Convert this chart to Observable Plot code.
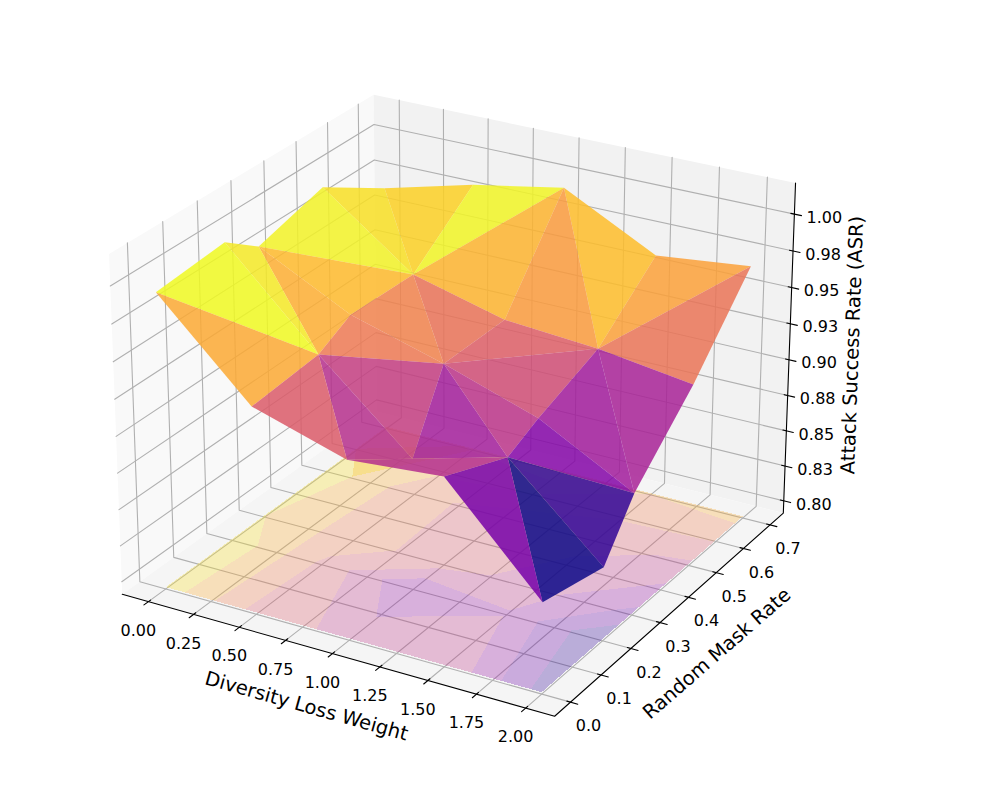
<!DOCTYPE html><html><head><meta charset="utf-8">
<script src="https://cdn.jsdelivr.net/npm/d3@7"></script>
<script src="https://cdn.jsdelivr.net/npm/@observablehq/plot@0.6"></script>
<style>body{margin:0;background:#fff}svg{display:block;font-family:"DejaVu Sans"}</style>
</head><body><div id="c"></div><script>
const weights=[0,.5,1,1.5,2];
const rates=[0,.2,.3,.5,.7];
const asr0=[.9928,.9974,.9805,.9935,.9657];
const asr1=[.9325,.9367,.9487,.9473,.9818];
const asr2=[.9132,.8816,.9305,.9307,.9933];
const asr3=[.9186,.8990,.9093,.9258,.9607];
const asr4=[.8528,.8415,.8749,.9168,.9677];
const asr=[asr0,asr1,asr2,asr3,asr4];
const diagonals=["00 01 11","00 10 11","01 02 11","02 11 12","02 03 13","02 12 13","03 04 13","04 14 13",
"10 20 11","20 21 11","11 21 22","11 12 22","12 13 22","13 22 23","13 14 24","13 23 24",
"20 30 31","20 21 31","21 31 22","22 31 32","22 32 33","22 23 33","23 24 33","24 33 34",
"30 40 31","40 41 31","31 41 42","31 32 42","32 42 33","33 42 43","33 43 44","33 34 44"];
const xTicks=[0,.25,.5,.75,1,1.25,1.5,1.75,2];
const yTicks=[0,.1,.2,.3,.4,.5,.6,.7];
const zTicks=[.8,.825,.85,.875,.9,.925,.95,.975,1];
const levels=[.84,.86,.88,.9,.92,.94,.96,.98,1];
const xl=[-.1458,2.1458],yl=[-.051,.751],zl=[.7912,1.0209];
const floorZ=.7925;

const A=[1.1905,1.1905,.8929],r=Math.PI/180,el=25*r,az=-60*r;
const W=[Math.cos(el)*Math.cos(az),Math.cos(el)*Math.sin(az),Math.sin(el)];
const U=[-Math.sin(az),Math.cos(az),0];
const V=[W[1]*U[2]-W[2]*U[1],W[2]*U[0]-W[0]*U[2],W[0]*U[1]-W[1]*U[0]];
const dot=(a,b)=>a[0]*b[0]+a[1]*b[1]+a[2]*b[2];
function proj(x,y,z){const p=[((x-xl[0])/(xl[1]-xl[0])-.5)*A[0],((y-yl[0])/(yl[1]-yl[0])-.5)*A[1],((z-zl[0])/(zl[1]-zl[0])-.5)*A[2]];
 const D=dot(p,W);return {px:dot(p,U)/(10-D),py:dot(p,V)/(10-D),depth:D};}
const poly=(pts,id,extra={})=>pts.map(q=>({...proj(...q),id,...extra}));
const [x0,x1]=xl,[y0,y1]=yl,[z0,z1]=zl;
const panes=[
 ...poly([[x0,y0,z0],[x0,y1,z0],[x0,y1,z1],[x0,y0,z1]],"a",{c:"#f9f9f9"}),
 ...poly([[x0,y1,z0],[x1,y1,z0],[x1,y1,z1],[x0,y1,z1]],"b",{c:"#f2f2f2"}),
 ...poly([[x0,y0,z0],[x1,y0,z0],[x1,y1,z0],[x0,y1,z0]],"c",{c:"#f5f5f5"})];
const grid=[
 ...xTicks.flatMap((t,i)=>poly([[t,y0,z0],[t,y1,z0],[t,y1,z1]],"x"+i)),
 ...yTicks.flatMap((t,i)=>poly([[x1,t,z0],[x0,t,z0],[x0,t,z1]],"y"+i)),
 ...zTicks.flatMap((t,i)=>poly([[x0,y0,t],[x0,y1,t],[x1,y1,t]],"z"+i))];
const axes=[...poly([[x0,y0,z0],[x1,y0,z0],[x1,y1,z0],[x1,y1,z1]],"ax")];
const dX=(x1-x0)*.08,dY=(y1-y0)*.08;
const ticks=[
 ...xTicks.flatMap((t,i)=>poly([[t,y0+.1*dY,z0],[t,y0-.2*dY,z0]],"x"+i)),
 ...yTicks.flatMap((t,i)=>poly([[x1-.1*dX,t,z0],[x1+.2*dX,t,z0]],"y"+i)),
 ...zTicks.flatMap((t,i)=>poly([[x1-.1*dX,y1,t],[x1+.2*dX,y1,t]],"z"+i))];
const xLab=xTicks.map(t=>({...proj(t,y0,z0),s:t.toFixed(2)}));
const yLab=yTicks.map(t=>({...proj(x1,t,z0),s:t.toFixed(1)}));
const zLab=zTicks.map(t=>({...proj(x1,y1,t),s:(Math.round((t+1e-9)*100)/100).toFixed(2)}));
function clip(P0,lo,hi){
 const cut=(P,lim,keepAbove)=>{const o=[];P.forEach((a,i)=>{const b=P[(i+1)%P.length];const ia=keepAbove?a[2]>=lim:a[2]<=lim,ib=keepAbove?b[2]>=lim:b[2]<=lim;
  if(ia)o.push(a);if(ia!==ib){const t=(lim-a[2])/(b[2]-a[2]);o.push([a[0]+t*(b[0]-a[0]),a[1]+t*(b[1]-a[1]),lim]);}});return o;};
 let P=cut(P0,lo,true);if(P.length)P=cut(P,hi,false);return P;}
const floor=[];let fid=0;
for(let i=0;i<4;i++)for(let j=0;j<4;j++){
 const c=[[weights[i],rates[j],asr[i][j]],[weights[i+1],rates[j],asr[i+1][j]],[weights[i+1],rates[j+1],asr[i+1][j+1]],[weights[i],rates[j+1],asr[i][j+1]]];
 for(let l=0;l<levels.length-1;l++){
  const P=clip(c,levels[l],levels[l+1]);
  if(P.length>2){fid++;const t=((levels[l]+levels[l+1])/2-levels[0])/(levels[levels.length-1]-levels[0]);
   P.forEach(q=>floor.push({...proj(q[0],q[1],floorZ),id:fid,t}));}}
}
const Fs=diagonals.map((s,n)=>{const vs=s.split(" ").map(k=>{const i=+k[0],j=+k[1];return [weights[i],rates[j],asr[i][j]];});
 return {n,vs,avg:d3.mean(vs,q=>q[2]),depth:d3.mean(vs,q=>proj(...q).depth)};});
const aMin=d3.min(Fs,f=>f.avg),aMax=d3.max(Fs,f=>f.avg);
const surface=Fs.slice().sort((a,b)=>a.depth-b.depth).flatMap(f=>f.vs.map(q=>({...proj(...q),id:f.n,t:(f.avg-aMin)/(aMax-aMin)})));

const k=4140,cx=458.7,cy=388;
const mid=(a,b)=>{const p=proj(...a),q=proj(...b);return {px:(p.px+q.px)/2,py:(p.py+q.py)/2};};
const chart=Plot.plot({width:996,height:797,margin:0,
 x:{domain:[-cx/k,(996-cx)/k],range:[0,996],axis:null},
 y:{domain:[(cy-797)/k,cy/k],range:[797,0],axis:null},
 color:{type:"linear",scheme:"plasma",domain:[0,1]},
 style:{background:"#fff",fontFamily:"DejaVu Sans",color:"#000"},
 marks:[
  Plot.line(panes,{x:"px",y:"py",z:"id",fill:d=>d.c,stroke:"none",curve:"linear-closed"}),
  Plot.line(grid,{x:"px",y:"py",z:"id",stroke:"#b0b0b0",strokeWidth:1.1,curve:"linear"}),
  Plot.line(floor,{x:"px",y:"py",z:"id",fill:"t",fillOpacity:.3,stroke:"none",curve:"linear-closed",shapeRendering:"crispEdges"}),
  Plot.line(surface,{x:"px",y:"py",z:"id",fill:"t",fillOpacity:.85,stroke:"none",curve:"linear-closed"}),
  Plot.line(axes,{x:"px",y:"py",z:"id",stroke:"#000",strokeWidth:1.1,curve:"linear"}),
  Plot.line(ticks,{x:"px",y:"py",z:"id",stroke:"#000",strokeWidth:1.1,curve:"linear"}),
  Plot.text(xLab,{x:"px",y:"py",text:"s",dx:-10,dy:29,fontSize:16,fill:"#000"}),
  Plot.text(yLab,{x:"px",y:"py",text:"s",dx:18,dy:24,fontSize:16,fill:"#000"}),
  Plot.text(zLab,{x:"px",y:"py",text:"s",dx:30,dy:3.5,fontSize:16,fill:"#000"}),
  Plot.text(["Diversity Loss Weight"],{x:()=>mid([x0,y0,z0],[x1,y0,z0]).px,y:()=>mid([x0,y0,z0],[x1,y0,z0]).py,text:d=>d,dx:-32,dy:51,rotate:15.7,fontSize:19.5,fill:"#000"}),
  Plot.text(["Random Mask Rate"],{x:()=>mid([x1,y0,z0],[x1,y1,z0]).px,y:()=>mid([x1,y0,z0],[x1,y1,z0]).py,text:d=>d,dx:48,dy:39,rotate:-41,fontSize:19.5,fill:"#000"}),
  Plot.text(["Attack Success Rate (ASR)"],{x:()=>mid([x1,y1,z0],[x1,y1,z1]).px,y:()=>mid([x1,y1,z0],[x1,y1,z1]).py,text:d=>d,dx:63,dy:-3,rotate:-88,fontSize:19.5,fill:"#000"})
 ]});
document.getElementById("c").append(chart);
</script></body></html>
